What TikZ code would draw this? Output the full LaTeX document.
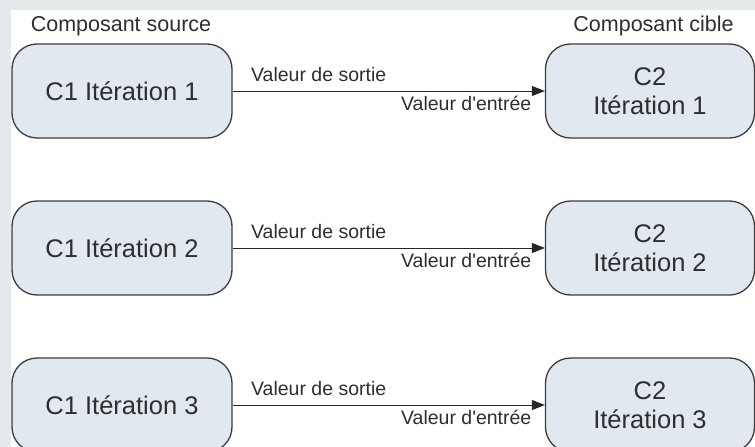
\documentclass[tikz,border=0pt]{standalone}
\usepackage{fontspec}
\newfontfamily\lsans{Liberation Sans}
\usetikzlibrary{arrows.meta}
\definecolor{bgout}{HTML}{E6E9EB}
\definecolor{boxfill}{HTML}{E1E8F0}
\definecolor{boxline}{HTML}{3C3C3C}
\definecolor{txt}{HTML}{2E2E2E}
\begin{document}
\begin{tikzpicture}[x=1pt,y=-1pt,
  comp/.style={draw=boxline, line width=1.3pt, fill=boxfill, rounded corners=25pt,
    minimum height=94pt, text=txt, align=center, inner sep=0pt,
    font=\lsans\fontsize{25.5}{29}\selectfont},
  srcbox/.style={comp, minimum width=220pt},
  tgtbox/.style={comp, minimum width=209pt},
  conn/.style={draw=black!85, line width=1pt, -{Triangle[length=13pt,width=10pt]}},
  lbl/.style={text=txt, inner sep=0pt, font=\lsans\fontsize{19.5}{23}\selectfont},
  ttl/.style={text=txt, inner sep=0pt, font=\lsans\fontsize{21.5}{25}\selectfont}]
\useasboundingbox (0,0) rectangle (755,447);
\fill[bgout] (0,0) rectangle (755,447);
\fill[white] (11,10) rectangle (755,447);

\node[ttl, anchor=base] (tsrc) at (121,31.7) {Composant source};
\node[ttl, anchor=base] (tcib) at (653.5,31.7) {Composant cible};

\foreach \i/\y in {1/91, 2/248, 3/405} {
  \node[srcbox] (s\i) at (122,\y) {C1 Itération \i};
  \node[tgtbox] (c\i) at (650,\y) {C2\\Itération \i};
  \draw[conn] (s\i) -- (c\i)
    node[lbl, pos=0, anchor=base west, xshift=18pt, yshift=10pt] (o\i) {Valeur de sortie}
    node[lbl, pos=1, anchor=base east, xshift=-13pt, yshift=-19pt] (e\i) {Valeur d'entrée};
}
\end{tikzpicture}
\end{document}
